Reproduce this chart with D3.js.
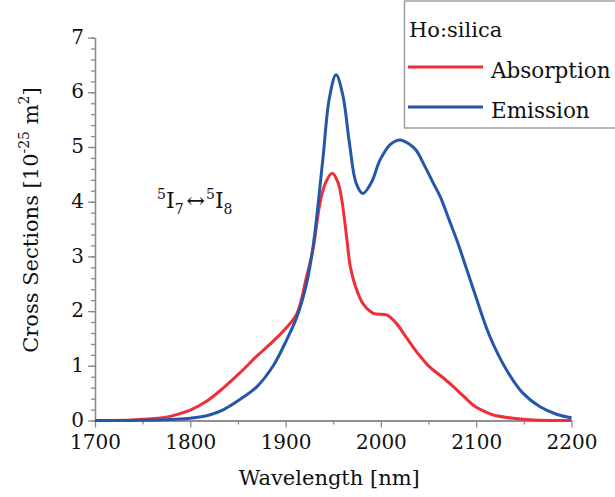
<!DOCTYPE html>
<html>
<head>
<meta charset="utf-8">
<title>Ho:silica cross sections</title>
<style>
  body { margin: 0; background: #fff; }
  svg text { font-family: "DejaVu Serif", serif; fill: #111; }
  .axis path, .axis line { stroke: #8a8a8a; stroke-width: 1.3; }
  .axis text { font-size: 20px; font-family: "DejaVu Serif", serif; fill: #111; }
  .curve { fill: none; stroke-width: 3; }
</style>
<script src="https://d3js.org/d3.v7.min.js"></script>
</head>
<body>
<svg width="615" height="497"></svg>
<script>
// wavelength [nm] and cross sections [1e-25 m^2]
var absWl  = [1700,1740,1760,1780,1790,1800,1817,1835,1852,1870,1887,1901,1912,1922,1929,1936,1942,1949,1955,1959,1964,1968,1973,1981,1992,2006,2016,2027,2040,2051,2064,2076,2087,2097,2108,2118,2139,2160,2200];
var absVal = [0,0.01,0.03,0.08,0.13,0.19,0.35,0.6,0.87,1.18,1.45,1.7,1.96,2.63,3.15,3.97,4.35,4.52,4.35,4.03,3.36,2.8,2.47,2.14,1.96,1.93,1.78,1.51,1.2,0.98,0.8,0.62,0.44,0.28,0.17,0.10,0.04,0.01,0];

var emWl  = [1700,1750,1780,1800,1820,1835,1850,1870,1887,1901,1912,1922,1929,1939,1946,1953,1960,1967,1974,1981,1990,1999,2010,2020,2030,2037,2046,2055,2062,2072,2080,2097,2114,2132,2149,2167,2185,2200];
var emVal = [0,0.005,0.02,0.04,0.1,0.2,0.36,0.62,1.0,1.47,1.9,2.5,3.2,4.76,5.9,6.32,5.95,5.07,4.34,4.15,4.35,4.76,5.05,5.13,5.05,4.94,4.65,4.34,4.1,3.65,3.28,2.4,1.55,0.92,0.5,0.25,0.11,0.05];

var seriesNames = ["Absorption", "Emission"];
var seriesColors = ["#ee2f35", "#2556a7"];
var xTicks = [1700,1800,1900,2000,2100,2200];
var yTicks = [0,1,2,3,4,5,6,7];

var svg = d3.select("svg");

var x = d3.scaleLinear().domain([1700,2200]).range([95,571.5]);
var y = d3.scaleLinear().domain([0,7]).range([420.5,37.6]);

// minor ticks
svg.append("g")
   .attr("class","axis")
   .attr("transform","translate(0,"+y(0)+")")
   .call(d3.axisBottom(x).tickValues(d3.range(1750,2200,100)).tickSize(4).tickFormat("").tickSizeOuter(0));
svg.append("g")
   .attr("class","axis")
   .attr("transform","translate("+x(1700)+",0)")
   .call(d3.axisLeft(y).tickValues(d3.range(0,7.01,0.2)).tickSize(4).tickFormat("").tickSizeOuter(0));

var xAxis = svg.append("g")
   .attr("class","axis")
   .attr("transform","translate(0,"+y(0)+")")
   .call(d3.axisBottom(x).tickValues(xTicks).tickSize(7).tickSizeOuter(0).tickFormat(d3.format("d")).tickPadding(7));
xAxis.selectAll("text").attr("dy","0.72em");

var yAxis = svg.append("g")
   .attr("class","axis")
   .attr("transform","translate("+x(1700)+",0)")
   .call(d3.axisLeft(y).tickValues(yTicks).tickSize(7).tickSizeOuter(0).tickFormat(d3.format("d")).tickPadding(4));
yAxis.selectAll("text").attr("dy","0.28em");

var line = d3.line()
   .x(function(d){return x(d[0]);})
   .y(function(d){return y(d[1]);})
   .curve(d3.curveCatmullRom.alpha(0.5));

var absData = absWl.map(function(w,i){return [w,absVal[i]];});
var emData = emWl.map(function(w,i){return [w,emVal[i]];});

svg.append("path").attr("class","curve").attr("d",line(absData)).attr("stroke",seriesColors[0]);
svg.append("path").attr("class","curve").attr("d",line(emData)).attr("stroke",seriesColors[1]);

// axis titles
svg.append("text")
   .attr("x",(x(1700)+x(2200))/2 - 4).attr("y",485)
   .attr("text-anchor","middle")
   .style("font-size","21px")
   .text("Wavelength [nm]");

var yl = svg.append("text")
   .attr("transform","translate(38,220) rotate(-90)")
   .attr("text-anchor","middle")
   .style("font-size","21px");
yl.append("tspan").text("Cross Sections [10");
yl.append("tspan").attr("dy",-9).style("font-size","14px").text("-25");
yl.append("tspan").attr("dy",9).text(" m");
yl.append("tspan").attr("dy",-9).style("font-size","14px").text("2");
yl.append("tspan").attr("dy",9).text("]");

// transition label
var ann = svg.append("text").attr("x",157).attr("y",208).style("font-size","22px");
ann.append("tspan").attr("dy",-9).style("font-size","14px").text("5");
ann.append("tspan").attr("dy",9).text("I");
ann.append("tspan").attr("dy",6).style("font-size","14px").text("7");
ann.append("tspan").attr("dy",-6).attr("dx",3).text("\u2194");
ann.append("tspan").attr("dy",-9).attr("dx",1).style("font-size","14px").text("5");
ann.append("tspan").attr("dy",9).text("I");
ann.append("tspan").attr("dy",6).style("font-size","14px").text("8");

// legend
var lg = svg.append("g");
lg.append("rect").attr("x",404.5).attr("y",1).attr("width",230).attr("height",127)
  .attr("fill","#fff").attr("stroke","#999").attr("stroke-width",1.4);
lg.append("text").attr("x",409).attr("y",37).style("font-size","21px").text("Ho:silica");
seriesNames.forEach(function(n,i){
  var ly = 67 + i*40;
  lg.append("line").attr("x1",408).attr("x2",483).attr("y1",ly).attr("y2",ly)
    .attr("stroke",seriesColors[i]).attr("stroke-width",3);
  lg.append("text").attr("x",491).attr("y",ly+11).style("font-size","21.5px").text(n);
});
</script>
</body>
</html>
